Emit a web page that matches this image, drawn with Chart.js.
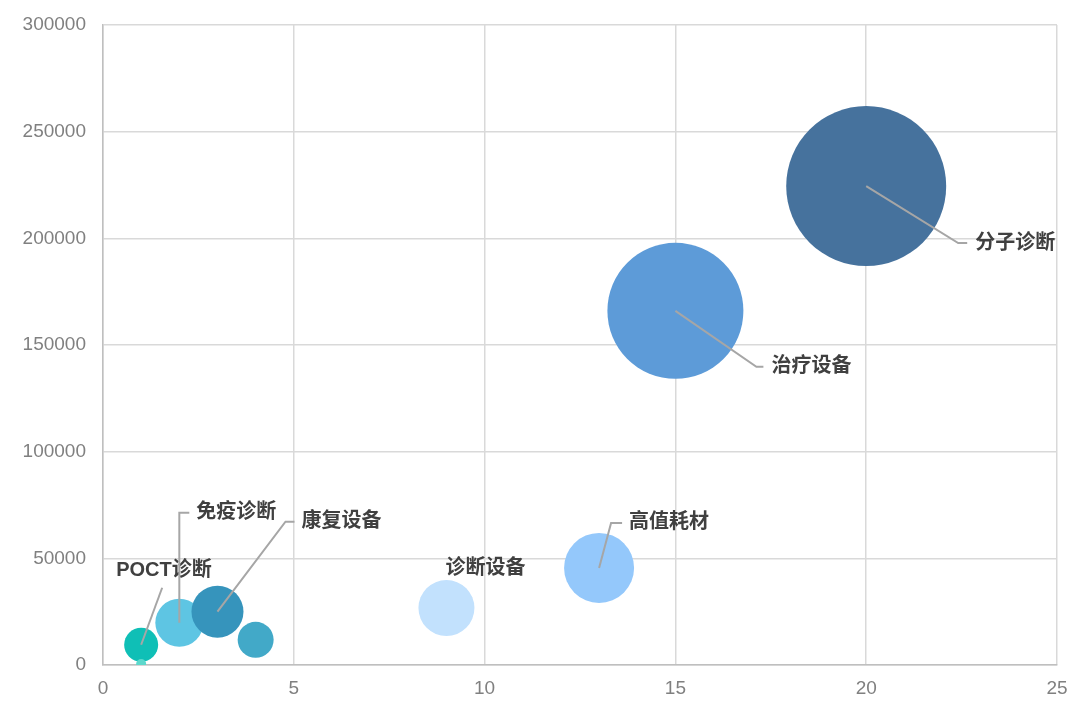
<!DOCTYPE html>
<html>
<head>
<meta charset="utf-8">
<script src="https://cdn.jsdelivr.net/npm/chart.js@4/dist/chart.umd.min.js"></script>
<style>
  html, body { margin: 0; padding: 0; background: #ffffff; }
  #wrap { width: 1080px; height: 706px; }
</style>
</head>
<body>
<div id="wrap"><canvas id="c" width="1080" height="706"></canvas></div>
<script>
// ---- data ----
const names   = ['分子诊断', '治疗设备', '高值耗材', '诊断设备', 'POCT诊断', '免疫诊断', '康复设备', '', ''];
const xVals   = [20, 15, 13, 9, 1, 2, 3, 4, 1];
const yVals   = [224500, 166000, 45500, 26700, 9500, 19800, 25000, 11800, 500];
const bubbleR = [80, 68, 35, 28, 17, 24, 26, 18, 5];
const xTicks  = [0, 5, 10, 15, 20, 25];
const yTicks  = [0, 50000, 100000, 150000, 200000, 250000, 300000];

// ---- styles ----
const palette = ['#46729d', '#5d9bd8', '#94c8fb', '#c2e1fd', '#0fbfb6', '#5ec5e3', '#3694bc', '#42a9c8', '#5dd8cc'];
// label placement (pixel offsets from bubble centre): [elbowDx, elbowDy, lineEndDx, textDx, textDy, drawLine]
const labelPlace = [
  [92, 57, 101, 109, 57, true],
  [81, 56, 88, 96, 56, true],
  [12, -45, 23, 30, -45, true],
  [0, 0, 0, -1, -40, false],
  [21, -57, 21, -25, -74, true],
  [0, -110, 10, 17, -110, true],
  [68, -90, 77, 84, -90, true]
];

const points = xVals.map((x, i) => ({ x: x, y: yVals[i], r: bubbleR[i] }));

const labelPlugin = {
  id: 'leaderLabels',
  afterDatasetsDraw(chart) {
    const ctx = chart.ctx;
    const meta = chart.getDatasetMeta(0);
    ctx.save();
    ctx.font = 'bold 20px "Liberation Sans", "Noto Sans CJK SC", sans-serif';
    ctx.textBaseline = 'middle';
    ctx.textAlign = 'left';
    names.forEach((name, i) => {
      if (!name || !labelPlace[i]) return;
      const el = meta.data[i];
      const cx = el.x, cy = el.y;
      const [ex, ey, lx, tx, ty, line] = labelPlace[i];
      if (line) {
        ctx.strokeStyle = '#a6a6a6';
        ctx.lineWidth = 2;
        ctx.beginPath();
        ctx.moveTo(cx, cy);
        ctx.lineTo(cx + ex, cy + ey);
        ctx.lineTo(cx + lx, cy + ey);
        ctx.stroke();
      }
      ctx.fillStyle = '#404040';
      ctx.fillText(name, cx + tx, cy + ty);
    });
    ctx.restore();
  }
};

new Chart(document.getElementById('c'), {
  type: 'bubble',
  data: {
    datasets: [{
      data: points,
      backgroundColor: palette,
      borderColor: palette,
      borderWidth: 0,
      hoverBorderWidth: 0,
      clip: 0
    }]
  },
  options: {
    responsive: false,
    animation: false,
    devicePixelRatio: 1,
    layout: { autoPadding: false, padding: { left: 0, top: 25, right: 23, bottom: 0 } },
    plugins: {
      legend: { display: false },
      tooltip: { enabled: false }
    },
    scales: {
      x: {
        type: 'linear',
        min: 0, max: 25,
        afterBuildTicks(s) { s.ticks = xTicks.map(v => ({ value: v })); },
        afterFit(s) { s.height = 41; s.paddingLeft = 0; s.paddingRight = 0; },
        grid: { color: '#d9d9d9', lineWidth: 1.5, drawTicks: false },
        border: { color: '#bfbfbf', width: 1.5 },
        ticks: { color: '#808080', padding: 12, font: { family: '"Liberation Sans", Arial, sans-serif', size: 19 } }
      },
      y: {
        type: 'linear',
        min: 0, max: 300000,
        afterBuildTicks(s) { s.ticks = yTicks.map(v => ({ value: v })); },
        afterFit(s) { s.width = 103; s.paddingTop = 0; s.paddingBottom = 0; },
        grid: { color: '#d9d9d9', lineWidth: 1.5, drawTicks: false },
        border: { color: '#bfbfbf', width: 1.5 },
        ticks: { color: '#808080', padding: 17, font: { family: '"Liberation Sans", Arial, sans-serif', size: 19 },
                 callback: v => String(v) }
      }
    }
  },
  plugins: [labelPlugin]
});
</script>
</body>
</html>
